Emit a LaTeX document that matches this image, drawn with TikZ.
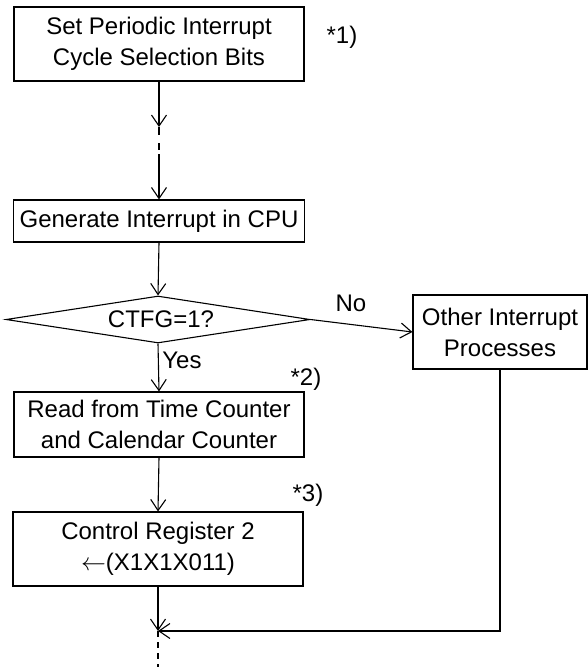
\documentclass[tikz,border=0pt]{standalone}
\usepackage{fontspec}
\setmainfont{Liberation Sans}
\usetikzlibrary{arrows.meta,shapes.geometric}
\begin{document}
\begin{tikzpicture}[x=1pt,y=-1pt,
  line width=1.1pt,
  every node/.style={font=\fontsize{24}{31}\selectfont, inner sep=0pt},
  box/.style={draw, rectangle, align=center},
  dec/.style={draw, diamond, aspect=6.47},
  arr/.style={-{Straight Barb[length=11pt,width=15pt]}},
]
\useasboundingbox (0,0) rectangle (588,667);
% boxes
\node[box, minimum width=290pt, minimum height=74pt] (b1) at (159,44) {Set Periodic Interrupt\\Cycle Selection Bits};
\node[box, minimum width=291pt, minimum height=42pt] (b2) at (159,221) {Generate Interrupt in CPU};
\node[dec, minimum width=304pt, minimum height=47pt] (d) at (158,319.5) {\hspace{6pt}CTFG=1?};
\node[box, minimum width=174pt, minimum height=74pt] (b3) at (500,332) {Other Interrupt\\Processes};
\node[box, minimum width=290pt, minimum height=65pt] (b4) at (159,424.5) {Read from Time Counter\\and Calendar Counter};
\node[box, minimum width=290pt, minimum height=74pt] (b5) at (158,549) {Control Register 2\\$\leftarrow$(X1X1X011)};
% labels
\node (n1) at (342,37) {*1)};
\node (n2) at (306,379) {*2)};
\node (n3) at (308,495) {*3)};
\node (no) at (351,303) {No};
\node (yes) at (182,360) {Yes};
% helper coordinates
\coordinate (c1) at (159,127);
\coordinate (c2) at (159,135);
\coordinate (c3) at (159,143);
\coordinate (c4) at (159,150);
\coordinate (c5) at (159,154);
\coordinate (m) at (158,631);
\coordinate (bot) at (158,667);
% connectors
\draw[arr] (b1.south) -- (c1);
\draw (c1) -- (c2);
\draw (c3) -- (c4);
\draw[arr] (c5) -- (b2.north);
\draw[arr] (b2.south) -- (d.north);
\draw[arr] (d.east) -- (b3.west);
\draw[arr] (d.south) -- (b4.north);
\draw[arr] (b4.south) -- (b5.north);
\draw[arr] (b5.south) -- (m);
\draw[arr] (b3.south) |- (m);
\draw[dash pattern=on 6pt off 5pt] (m) -- (bot);
\end{tikzpicture}
\end{document}
